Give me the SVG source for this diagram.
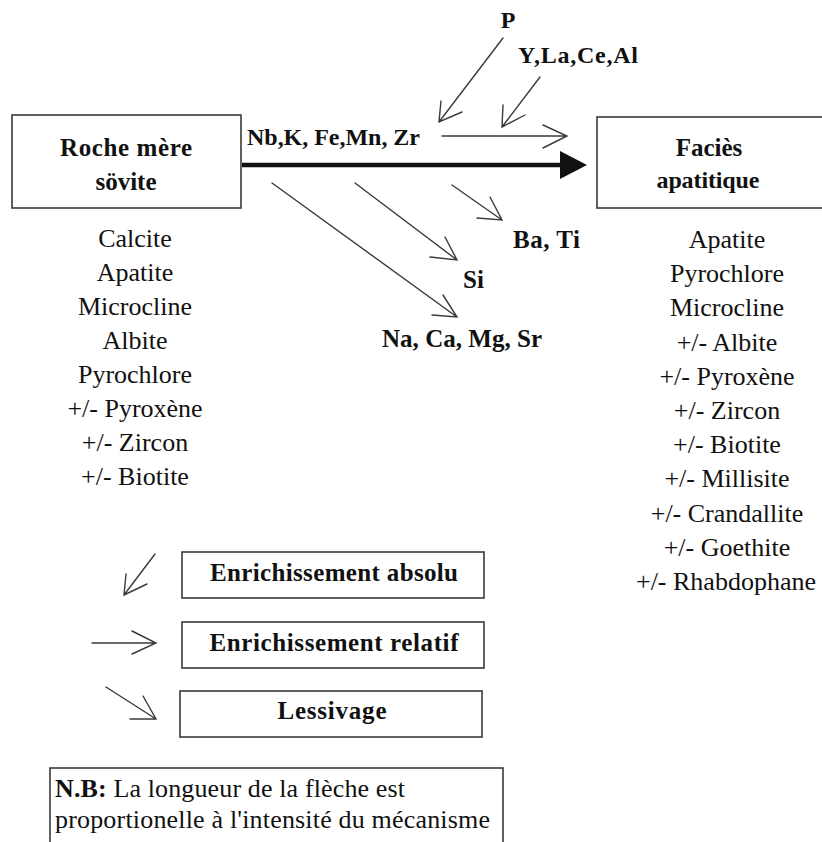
<svg xmlns="http://www.w3.org/2000/svg" width="822" height="842" viewBox="0 0 822 842">
<style>
.box{fill:#fff;stroke:#3a3a3a;stroke-width:1.6}
.t{font-family:"Liberation Serif","Times New Roman",serif;fill:#111}
.b{font-weight:bold}
.c{text-anchor:middle}
.ln{fill:none;stroke:#3a3a3a;stroke-width:1.4;stroke-linecap:round}
</style>
<rect width="822" height="842" fill="#fff"/>
<g id="roche">
<rect class="box" x="12" y="115" width="229" height="93"/>
<text class="t b c" x="126" y="156" font-size="25" textLength="132">Roche mère</text>
<text class="t b c" x="126" y="190" font-size="25">sövite</text>
</g>
<g id="facies">
<rect class="box" x="597" y="117" width="240" height="91"/>
<text class="t b c" x="709" y="156" font-size="25">Faciès</text>
<text class="t b c" x="708" y="188" font-size="24" textLength="103">apatitique</text>
</g>
<g id="list-roche" class="t c" font-size="26">
<text x="135" y="247">Calcite</text>
<text x="135" y="281">Apatite</text>
<text x="135" y="315">Microcline</text>
<text x="135" y="349">Albite</text>
<text x="135" y="383">Pyrochlore</text>
<text x="135" y="417">+/- Pyroxène</text>
<text x="135" y="451">+/- Zircon</text>
<text x="135" y="485">+/- Biotite</text>
</g>
<g id="list-facies" class="t c" font-size="26">
<text x="727" y="248">Apatite</text>
<text x="727" y="282">Pyrochlore</text>
<text x="727" y="316">Microcline</text>
<text x="727" y="351">+/- Albite</text>
<text x="727" y="385">+/- Pyroxène</text>
<text x="727" y="419">+/- Zircon</text>
<text x="727" y="453">+/- Biotite</text>
<text x="727" y="487">+/- Millisite</text>
<text x="727" y="522">+/- Crandallite</text>
<text x="727" y="556">+/- Goethite</text>
<text x="726" y="590">+/- Rhabdophane</text>
</g>
<g id="labels" class="t b">
<text x="247" y="145" font-size="24" textLength="173">Nb,K, Fe,Mn, Zr</text>
<text class="c" x="508" y="28" font-size="24">P</text>
<text x="518" y="63" font-size="24" textLength="120">Y,La,Ce,Al</text>
<text x="513" y="248" font-size="25" textLength="67">Ba, Ti</text>
<text x="463" y="288" font-size="25">Si</text>
<text x="382" y="347" font-size="25" textLength="160">Na, Ca, Mg, Sr</text>
</g>
<g id="connectors">
<line x1="242" y1="165" x2="562" y2="165" stroke="#111" stroke-width="4.5"/>
<polygon points="587,165 560,151 560,179" fill="#111"/>
<path class="ln" d="M442,136 L567,136 M543,125 L567,136 L543,148"/>
<path class="ln" d="M503,38 L439,122 M441,101 L439,122 L462,112"/>
<path class="ln" d="M540,77 L502,127 M503,105 L502,127 L525,115"/>
<path class="ln" d="M272,183 L457,317 M443,295 L457,317 L432,315"/>
<path class="ln" d="M355,183 L457,260 M445,237 L457,260 L430,257"/>
<path class="ln" d="M452,185 L502,220 M490,197 L502,220 L477,218"/>
</g>
<g id="legend-absolu">
<path class="ln" d="M155,554 L124,595 M126,574 L124,595 L147,584"/>
<rect class="box" x="182" y="552" width="302" height="46"/>
<text class="t b c" x="334" y="581" font-size="25" textLength="248">Enrichissement absolu</text>
</g>
<g id="legend-relatif">
<path class="ln" d="M92,643 L156,643 M132,631 L156,643 L132,654"/>
<rect class="box" x="182" y="622" width="302" height="46"/>
<text class="t b c" x="334" y="651" font-size="25" textLength="249">Enrichissement relatif</text>
</g>
<g id="legend-lessivage">
<path class="ln" d="M106,687 L156,719 M143,696 L156,719 L130,719"/>
<rect class="box" x="180" y="691" width="302" height="46"/>
<text class="t b c" x="332" y="719" font-size="25" textLength="109">Lessivage</text>
</g>
<g id="nb">
<rect class="box" x="50" y="768" width="453" height="90"/>
<text class="t" x="55" y="797" font-size="26" textLength="350"><tspan font-weight="bold">N.B:</tspan> La longueur de la flèche est</text>
<text class="t" x="55" y="828" font-size="26" textLength="435">proportionelle à l'intensité du mécanisme</text>
</g>
</svg>
